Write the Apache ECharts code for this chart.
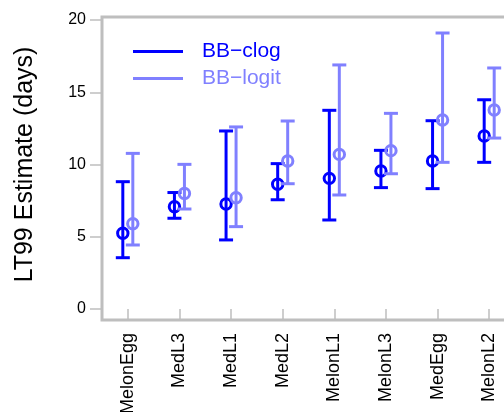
<!DOCTYPE html>
<html>
<head>
<meta charset="utf-8">
<script src="https://cdn.jsdelivr.net/npm/echarts@6/dist/echarts.min.js"></script>
<style>
html,body{margin:0;padding:0;background:#fff;}
#chart{width:504px;height:412px;}
</style>
</head>
<body>
<div id="chart"></div>
<script>
const categories = ['MelonEgg','MedL3','MedL1','MedL2','MelonL1','MelonL3','MedEgg','MelonL2'];
const clogMid = [5.24, 7.08, 7.27, 8.63, 9.04, 9.55, 10.24, 11.97];
const clogHigh = [8.81, 8.06, 12.32, 10.06, 13.75, 10.98, 13.03, 14.48];
const clogLow = [3.55, 6.28, 4.78, 7.56, 6.16, 8.40, 8.33, 10.15];
const logitMid = [5.90, 8.00, 7.70, 10.24, 10.70, 10.96, 13.08, 13.77];
const logitHigh = [10.77, 10.01, 12.60, 13.01, 16.89, 13.54, 19.10, 16.68];
const logitLow = [4.43, 6.92, 5.70, 8.67, 7.89, 9.36, 10.15, 11.83];
const yTicks = [0, 5, 10, 15, 20];
const seriesNames = ['BB\u2212clog', 'BB\u2212logit'];
const seriesColors = ['#0000ff', '#8080ff'];

function buildData(mid, hi, lo) {
  return categories.map((c, i) => [i, mid[i], hi[i], lo[i]]);
}
function makeRender(offset) {
  return function (params, api) {
    const c = api.coord([api.value(0), api.value(1)]);
    const hi = api.coord([api.value(0), api.value(2)]);
    const lo = api.coord([api.value(0), api.value(3)]);
    const x = c[0] + offset;
    const style = { stroke: api.visual('color'), lineWidth: 3, fill: null };
    return {
      type: 'group',
      children: [
        { type: 'line', shape: { x1: x, y1: hi[1], x2: x, y2: lo[1] }, style: style },
        { type: 'line', shape: { x1: x - 7, y1: hi[1], x2: x + 7, y2: hi[1] }, style: style },
        { type: 'line', shape: { x1: x - 7, y1: lo[1], x2: x + 7, y2: lo[1] }, style: style },
        { type: 'circle', shape: { cx: x, cy: c[1], r: 5.2 }, style: style }
      ]
    };
  };
}

const chart = echarts.init(document.getElementById('chart'), null, { renderer: 'canvas' });
const font = '"Liberation Sans", Arial, Helvetica, sans-serif';
chart.setOption({
  animation: false,
  textStyle: { fontFamily: font },
  legend: {
    orient: 'vertical',
    left: 128,
    top: 36,
    itemWidth: 50,
    itemHeight: 3,
    itemGap: 6,
    icon: 'rect',
    data: seriesNames.map((n, i) => ({ name: n, textStyle: { color: seriesColors[i] } })),
    textStyle: { fontSize: 21, lineHeight: 21, fontFamily: font, padding: [0, 0, 0, 14] }
  },
  grid: [
    { left: 102, top: 20, width: 413, height: 289, show: false, containLabel: false, outerBoundsMode: 'none' },
    { left: 102, top: 17, width: 413, height: 303, show: true, borderColor: '#bebebe', borderWidth: 3, backgroundColor: 'transparent', containLabel: false, outerBoundsMode: 'none' }
  ],
  xAxis: [
    {
      type: 'category', gridIndex: 0, data: categories, offset: 11,
      axisLine: { show: false },
      axisTick: { show: true, alignWithLabel: true, length: 10, lineStyle: { color: '#bebebe', width: 1.5 } },
      axisLabel: { rotate: 90, fontSize: 18, color: '#000', margin: 13, fontFamily: font, interval: 0 }
    },
    { type: 'category', gridIndex: 1, show: false, data: categories }
  ],
  yAxis: [
    {
      type: 'value', gridIndex: 0, min: yTicks[0], max: yTicks[yTicks.length - 1], interval: 5,
      name: 'LT99 Estimate (days)', nameLocation: 'middle', nameGap: 64,
      nameTextStyle: { fontSize: 25, color: '#000', fontFamily: font },
      axisLine: { show: false },
      axisTick: { show: true, length: 12, lineStyle: { color: '#bebebe', width: 1.5 } },
      splitLine: { show: false },
      axisLabel: { fontSize: 16, color: '#000', margin: 16, fontFamily: font }
    },
    { type: 'value', gridIndex: 1, show: false, min: 0, max: 1 }
  ],
  series: [
    {
      name: seriesNames[0], type: 'custom', xAxisIndex: 0, yAxisIndex: 0,
      itemStyle: { color: seriesColors[0] },
      renderItem: makeRender(-5),
      data: buildData(clogMid, clogHigh, clogLow),
      z: 2
    },
    {
      name: seriesNames[1], type: 'custom', xAxisIndex: 0, yAxisIndex: 0,
      itemStyle: { color: seriesColors[1] },
      renderItem: makeRender(5),
      data: buildData(logitMid, logitHigh, logitLow),
      z: 3
    }
  ]
});
</script>
</body>
</html>
